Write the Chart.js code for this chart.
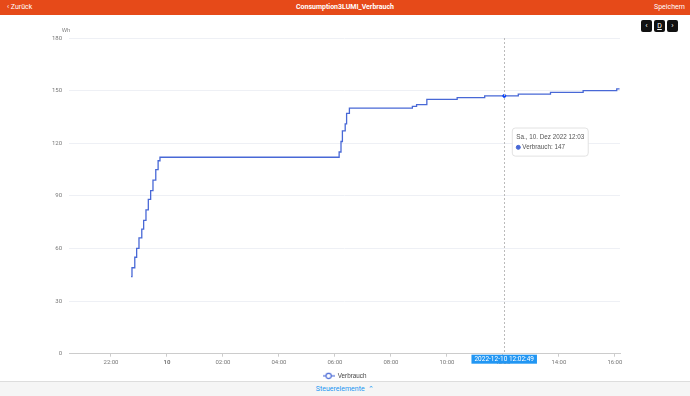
<!DOCTYPE html>
<html>
<head>
<meta charset="utf-8">
<script src="https://cdn.jsdelivr.net/npm/chart.js@4/dist/chart.umd.min.js"></script>
<style>
  html, body { margin: 0; padding: 0; width: 690px; height: 396px; overflow: hidden; background: #fff; font-family: Roboto, sans-serif; }
  .top { position: absolute; left: 0; top: 0; width: 690px; height: 15px; background: #e64a19; color: #fff; font-size: 7px; line-height: 15px; }
  .top .back { position: absolute; left: 7px; }
  .top .title { position: absolute; left: 0; width: 690px; text-align: center; font-weight: bold; font-size: 7px; }
  .top .save { position: absolute; right: 5px; }
  .btns { position: absolute; top: 20px; left: 641px; }
  .btns span { display: inline-block; width: 11px; height: 12px; margin-right: 2px; background: #111; color: #fff; border-radius: 2px; font-size: 8px; line-height: 12px; text-align: center; vertical-align: top; }
  .btns span.d { text-decoration: underline; font-size: 7px; }
  #wrap { position: absolute; left: 0; top: 14px; width: 690px; height: 375px; }
  .bottom { position: absolute; left: 0; top: 381px; width: 690px; height: 15px; background: #f5f5f5; border-top: 1px solid #ddd; color: #2196f3; font-size: 7px; line-height: 15px; text-align: center; }
</style>
</head>
<body>
<div class="top"><span class="back">&#8249; Zurück</span><span class="title">Consumption3LUMI_Verbrauch</span><span class="save">Speichern</span></div>
<div class="btns"><span>&#8249;</span><span class="d">D</span><span>&#8250;</span></div>
<div id="wrap"><canvas id="chart"></canvas></div>
<div class="bottom">Steuerelemente &nbsp;&#8963;</div>
<script>
// Messzeitpunkte (9./10. Dez 2022) und Zählerstand in Wh
const times = [
  "2022-12-09 22:43", "2022-12-09 22:45", "2022-12-09 22:51", "2022-12-09 22:55",
  "2022-12-09 23:00", "2022-12-09 23:06", "2022-12-09 23:10", "2022-12-09 23:15",
  "2022-12-09 23:20", "2022-12-09 23:25", "2022-12-09 23:30", "2022-12-09 23:36",
  "2022-12-09 23:41", "2022-12-09 23:45",
  "2022-12-10 06:09", "2022-12-10 06:13", "2022-12-10 06:16", "2022-12-10 06:22",
  "2022-12-10 06:25", "2022-12-10 06:31",
  "2022-12-10 08:46", "2022-12-10 08:55", "2022-12-10 09:17", "2022-12-10 10:22",
  "2022-12-10 11:21", "2022-12-10 12:03", "2022-12-10 12:33", "2022-12-10 13:42",
  "2022-12-10 14:52", "2022-12-10 16:04", "2022-12-10 16:10"
]
const usage = [
  44, 49, 55, 60,
  66, 71, 76, 82,
  88, 93, 99, 105,
  110, 112,
  115, 121, 127, 131,
  137, 140,
  141, 142, 145, 146,
  147, 147, 148, 149,
  150, 151, 151
]
const xTicks = ["22:00", "10", "02:00", "04:00", "06:00", "08:00", "10:00", "12:00", "14:00", "16:00"]
const yTicks = [0, 30, 60, 90, 120, 150, 180]
const cursorTime = "2022-12-10 12:02:49"
const tooltipTitle = "Sa., 10. Dez 2022 12:03"

// Minuten seit 09.12. 00:00
function toMin(s) {
  const [d, t] = s.split(" ")
  const day = parseInt(d.slice(8, 10)) - 9
  const p = t.split(":").map(Number)
  return day * 1440 + p[0] * 60 + p[1] + (p[2] || 0) / 60
}
const tickMinutes = xTicks.map((l, i) => 1320 + i * 120)

const lineColor = "#4868d6"

// Legenden-Symbol: Linie mit Kreis
const icon = document.createElement("canvas")
icon.width = 12; icon.height = 8
{
  const c = icon.getContext("2d")
  c.strokeStyle = lineColor; c.lineWidth = 1.1
  c.beginPath(); c.moveTo(0, 4); c.lineTo(12, 4); c.stroke()
  c.fillStyle = "#fff"
  c.beginPath(); c.arc(6, 4, 2.6, 0, Math.PI * 2); c.fill(); c.stroke()
}

// Fadenkreuz + Zeitmarke auf der x-Achse
const crosshair = {
  id: "crosshair",
  afterDatasetsDraw(chart) {
    const { ctx, chartArea } = chart
    const x = chart.scales.x.getPixelForValue(toMin(cursorTime))
    ctx.save()
    ctx.strokeStyle = "#bbb"
    ctx.lineWidth = 1
    ctx.setLineDash([2, 2])
    ctx.beginPath()
    ctx.moveTo(Math.round(x) + 0.5, chartArea.top)
    ctx.lineTo(Math.round(x) + 0.5, chartArea.bottom)
    ctx.stroke()
    ctx.restore()
  },
  afterDraw(chart) {
    const { ctx, chartArea } = chart
    const x = chart.scales.x.getPixelForValue(toMin(cursorTime))
    ctx.save()
    ctx.font = "6.5px Roboto"
    const w = ctx.measureText(cursorTime).width + 6
    ctx.fillStyle = "#2196f3"
    ctx.fillRect(x - w / 2, chartArea.bottom + 1, w, 9)
    ctx.fillStyle = "#fff"
    ctx.textAlign = "center"
    ctx.textBaseline = "middle"
    ctx.fillText(cursorTime, x, chartArea.bottom + 5.5)
    // Einheit über der y-Achse
    ctx.fillStyle = "#888"
    ctx.font = "6px Roboto"
    ctx.fillText("Wh", chartArea.left - 3, chartArea.top - 8)
    ctx.restore()
  }
}

Chart.Tooltip.positioners.fixed = function (items) {
  if (!items.length) return false
  return { x: items[0].element.x + 11, y: this.chart.chartArea.top + 90 }
}

const chart = new Chart(document.getElementById("chart"), {
  type: "line",
  data: {
    datasets: [{
      label: "Verbrauch",
      data: times.map((t, i) => ({ x: toMin(t), y: usage[i] })),
      borderColor: lineColor,
      backgroundColor: lineColor,
      borderWidth: 1.3,
      stepped: "before",
      pointRadius: 0,
      pointHoverRadius: 1.5,
      pointHoverBorderWidth: 1
    }]
  },
  options: {
    responsive: true,
    maintainAspectRatio: false,
    animation: false,
    events: [],
    layout: { padding: { top: 24, right: 70, left: 0, bottom: 0 } },
    font: { family: "Roboto" },
    scales: {
      x: {
        type: "linear",
        min: 1230,
        max: 2411,
        afterBuildTicks: s => { s.ticks = tickMinutes.map(v => ({ value: v })) },
        afterFit: s => { s.height = 14 },
        border: { color: "#ccc" },
        grid: { drawOnChartArea: false, tickLength: 3, color: "#ccc" },
        ticks: {
          color: "#777",
          maxRotation: 0,
          padding: 2,
          autoSkip: false,
          font: c => ({ size: 6, weight: c.tick && c.tick.value === 1440 ? "bold" : "normal" }),
          callback: (v, i) => xTicks[i]
        }
      },
      y: {
        min: 0,
        max: 180,
        afterBuildTicks: s => { s.ticks = yTicks.map(v => ({ value: v })) },
        afterFit: s => { s.width = 69 },
        border: { display: false },
        grid: { color: "#eef0f5", tickLength: 0 },
        ticks: { color: "#777", padding: 7, font: { size: 6 } }
      }
    },
    plugins: {
      legend: {
        position: "bottom",
        fullSize: false,
        labels: {
          usePointStyle: true,
          pointStyleWidth: 12,
          padding: 5,
          color: "#444",
          font: { size: 6.3 },
          generateLabels: ch => [{
            text: "Verbrauch",
            pointStyle: icon,
            fillStyle: "#fff",
            strokeStyle: lineColor,
            lineWidth: 0,
            fontColor: "#444",
            datasetIndex: 0
          }]
        }
      },
      tooltip: {
        position: "fixed",
        xAlign: "left",
        yAlign: "top",
        caretSize: 0,
        caretPadding: 0,
        backgroundColor: "#fff",
        borderColor: "#e2e2e2",
        borderWidth: 1,
        cornerRadius: 3,
        titleColor: "#555",
        bodyColor: "#555",
        titleFont: { size: 6.3, weight: "normal" },
        bodyFont: { size: 6.3 },
        titleMarginBottom: 3,
        padding: { left: 4, right: 4, top: 5, bottom: 5 },
        usePointStyle: true,
        boxWidth: 4,
        boxHeight: 4,
        callbacks: {
          title: () => tooltipTitle,
          label: c => c.dataset.label + ": " + c.parsed.y,
          labelPointStyle: () => ({ pointStyle: "circle", rotation: 0 }),
          labelColor: () => ({ borderColor: lineColor, backgroundColor: lineColor })
        }
      }
    }
  },
  plugins: [crosshair]
})

const idx = times.indexOf("2022-12-10 12:03")
chart.setActiveElements([{ datasetIndex: 0, index: idx }])
chart.tooltip.setActiveElements([{ datasetIndex: 0, index: idx }], { x: 0, y: 0 })
chart.update()
</script>
</body>
</html>
